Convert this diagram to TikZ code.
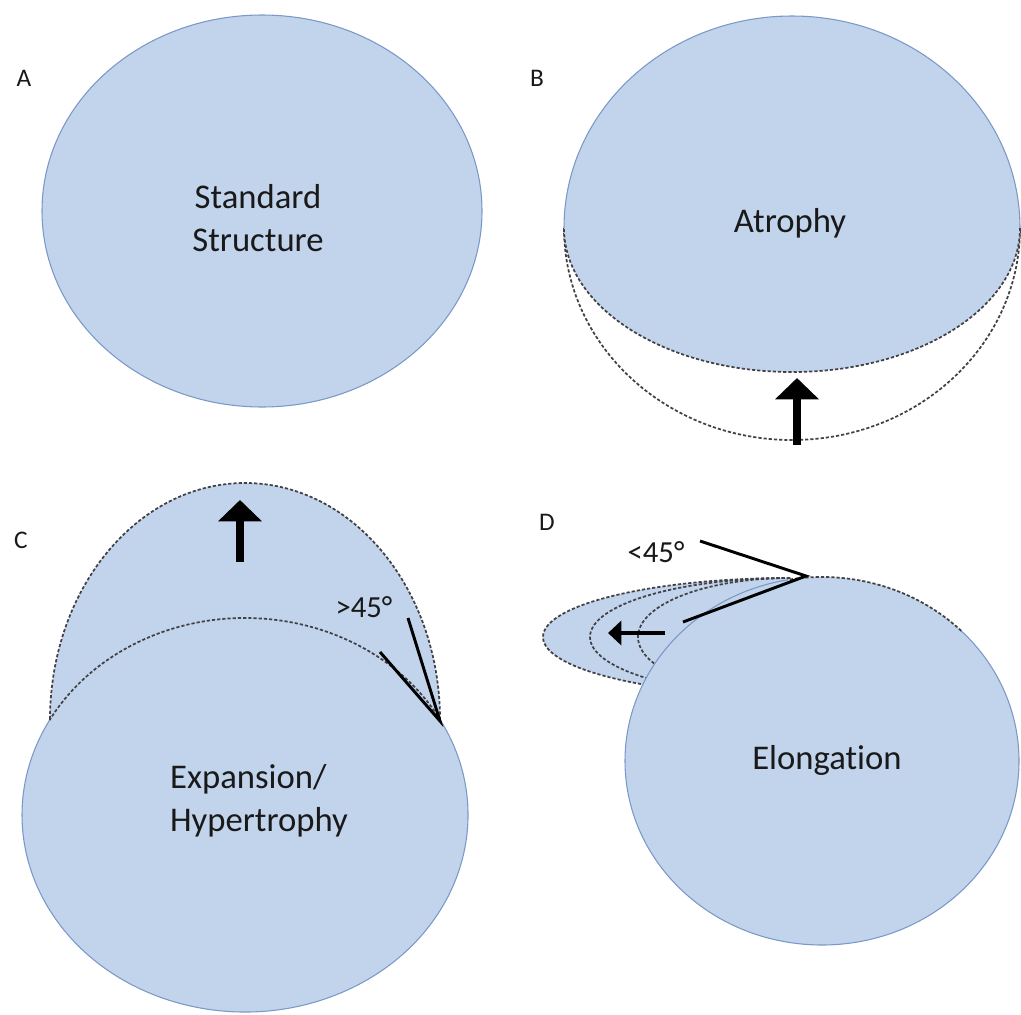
\documentclass[tikz,border=0pt]{standalone}
\usepackage{fontspec}
\setmainfont{Carlito}[Ligatures=NoCommon]
\definecolor{cellblue}{RGB}{194,212,236}
\definecolor{rimblue}{RGB}{122,152,200}
\definecolor{dashgray}{RGB}{65,65,70}
\definecolor{inkdark}{RGB}{25,25,25}
\usetikzlibrary{arrows.meta}

\begin{document}
\begin{tikzpicture}[x=0.75pt, y=-0.75pt,
  blob/.style={fill=cellblue},
  rim/.style={draw=rimblue, line width=0.8pt},
  ghost/.style={draw=dashgray, line width=1.3pt, dash pattern=on 2.4pt off 1.5pt},
  bigarrow/.style={line width=6pt, -{Triangle[width=32pt,length=16pt]}},
  smallarrow/.style={line width=3.4pt, -{Triangle[width=18pt,length=10pt]}},
  anglestroke/.style={line width=2.2pt, black},
  paneltag/.style={font=\fontsize{19}{21}\selectfont, text=inkdark},
  caption/.style={font=\fontsize{26}{32}\selectfont, text=inkdark},
  degree/.style={font=\fontsize{23}{25}\selectfont, text=inkdark}]
  \useasboundingbox (0,0) rectangle (1021,1014);

  % Panel A: standard structure
  \fill[blob] (262,211) ellipse [x radius=220, y radius=196];
  \draw[rim] (262,211) ellipse [x radius=220, y radius=196];
  \node[caption, align=center] (std) at (258,218) {Standard\\Structure};
  \node[paneltag] (tagA) at (24,78) {A};

  % Panel B: atrophy
  \draw[ghost] (564,228) arc [start angle=180, end angle=0, x radius=228, y radius=212];
  \fill[blob] (564,228) arc [start angle=180, end angle=360, x radius=228, y radius=212]
    arc [start angle=0, end angle=180, x radius=228, y radius=144] -- cycle;
  \draw[rim] (564,228) arc [start angle=180, end angle=360, x radius=228, y radius=212];
  \draw[ghost] (1020,228) arc [start angle=0, end angle=180, x radius=228, y radius=144];
  \node[caption] (atro) at (790,223) {Atrophy};
  \node[paneltag] (tagB) at (537,78) {B};
  \coordinate (atroTail) at (797,445);
  \coordinate (atroTip) at (797,378);
  \draw[bigarrow] (atroTail) -- (atroTip);

  % Panel C: expansion / hypertrophy
  \fill[blob] (245,720) ellipse [x radius=195, y radius=237];
  \draw[ghost] (245,720) ellipse [x radius=195, y radius=237];
  \fill[blob] (245,815) ellipse [x radius=223, y radius=197];
  \draw[rim] (245,815) ++(-28.8:223 and 197) arc [start angle=-28.8, end angle=208.8, x radius=223, y radius=197];
  \draw[ghost] (245,815) ++(-28.8:223 and 197) arc [start angle=-28.8, end angle=-151.2, x radius=223, y radius=197];
  \node[caption, align=left] (expa) at (259,801) {Expansion/\\Hypertrophy};
  \node[paneltag] (tagC) at (21,540) {C};
  \coordinate (expaTail) at (240,562);
  \coordinate (expaTip) at (240,500);
  \draw[bigarrow] (expaTail) -- (expaTip);
  % wide angle mark
  \coordinate (wideApex) at (440,721);
  \coordinate (wideLow) at (380,652);
  \coordinate (wideHigh) at (408,618);
  \draw[anglestroke] (wideLow) -- (wideApex) -- (wideHigh);
  \node[degree] (wideDeg) at (364,607) {>45°};

  % Panel D: elongation
  \foreach \rx in {247,200,152}
    \fill[blob] (790,578) arc [start angle=270, end angle=90, x radius=\rx, y radius=59] -- cycle;
  \foreach \rx in {247,200,152}
    \draw[ghost] (790,578) arc [start angle=270, end angle=90, x radius=\rx, y radius=59];
  \fill[blob] (822,761) ellipse [x radius=197, y radius=184];
  \draw[rim] (822,761) ++(-45:197 and 184) arc [start angle=-45, end angle=260, x radius=197, y radius=184];
  \draw[ghost] (822,761) ++(-45:197 and 184) arc [start angle=-45, end angle=-100, x radius=197, y radius=184];
  \node[caption] (elong) at (827,760) {Elongation};
  \node[paneltag] (tagD) at (547,522) {D};
  \coordinate (elongTail) at (665,633);
  \coordinate (elongTip) at (608,633);
  \draw[smallarrow] (elongTail) -- (elongTip);
  % narrow angle mark
  \coordinate (narrowApex) at (806,576);
  \coordinate (narrowHigh) at (700,541);
  \coordinate (narrowLow) at (683,622);
  \draw[anglestroke] (narrowHigh) -- (narrowApex) -- (narrowLow);
  \node[degree] (narrowDeg) at (656,552) {<45°};
\end{tikzpicture}
\end{document}
